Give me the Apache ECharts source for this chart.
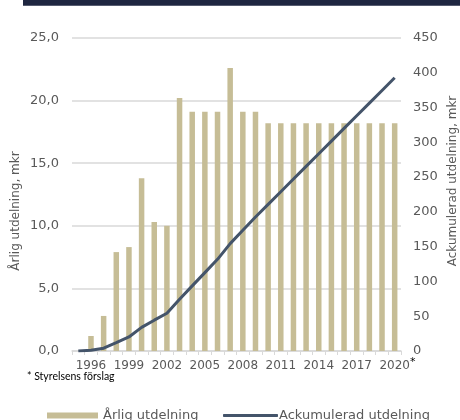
<!DOCTYPE html>
<html>
<head>
<meta charset="utf-8">
<script src="https://cdn.jsdelivr.net/npm/echarts@6/dist/echarts.min.js"></script>
<style>
html,body{margin:0;padding:0;background:#fff;}
#c{width:460px;height:420px;}
</style>
</head>
<body>
<div id="c"></div>
<script>
const years = ['1995','1996','1997','1998','1999','2000','2001','2002','2003','2004','2005','2006','2007','2008','2009','2010','2011','2012','2013','2014','2015','2016','2017','2018','2019','2020'];
const annual = [0, 1.2, 2.8, 7.9, 8.3, 13.8, 10.3, 10.0, 20.2, 19.1, 19.1, 19.1, 22.6, 19.1, 19.1, 18.2, 18.2, 18.2, 18.2, 18.2, 18.2, 18.2, 18.2, 18.2, 18.2, 18.2];
const cumulative = [0, 1.2, 4.0, 11.9, 20.2, 34.0, 44.3, 54.3, 74.5, 93.6, 112.7, 131.8, 154.4, 173.5, 192.6, 210.8, 229.0, 247.2, 265.4, 283.6, 301.8, 320.0, 338.2, 356.4, 374.6, 392.8];
const yearTickLabels = ['1996','1999','2002','2005','2008','2011','2014','2017','2020'];
const leftTicks = {min: 0, max: 25, interval: 5};
const rightTicks = {min: 0, max: 450, interval: 50};
const barName = 'Årlig utdelning';
const lineName = 'Ackumulerad utdelning';
const footnote = '* Styrelsens förslag';
const leftAxisTitle = 'Årlig utdelning, mkr';
const rightAxisTitle = 'Ackumulerad utdelning, mkr';
const chartTitle = 'Årlig utdelning och ackumulerad utdelning';

const font = 'DejaVu Sans';
const grey = '#595959';
const chart = echarts.init(document.getElementById('c'));
const staticGraphics = [
  {id: 'band', type: 'rect', shape: {x: 23, y: -20, width: 437, height: 25.7}, style: {fill: '#1e2640'}},
  {id: 'title', type: 'text', x: 245, y: 0, style: {text: chartTitle, fill: '#fff', font: 'bold 14px "DejaVu Sans"', align: 'center', verticalAlign: 'bottom'}},
  {id: 'foot', type: 'text', x: 27, y: 377, style: {text: footnote, fill: '#000', font: '10.5px Lato', align: 'left', verticalAlign: 'middle'}},
  {id: 'lname', type: 'text', x: 16, y: 211, rotation: Math.PI / 2, style: {text: leftAxisTitle, fill: grey, font: '12px "DejaVu Sans"', align: 'center', verticalAlign: 'middle'}},
  {id: 'rname', type: 'text', x: 453, y: 181, rotation: Math.PI / 2, style: {text: rightAxisTitle, fill: grey, font: '12px "DejaVu Sans"', align: 'center', verticalAlign: 'middle'}}
];
chart.setOption({
  animation: false,
  textStyle: {fontFamily: font},
  grid: {left: 72, right: 59, top: 38, bottom: 69, containLabel: false},
  legend: [
    {data: [barName], left: 42, top: 404, itemWidth: 51, itemHeight: 6, icon: 'rect', itemGap: 0,
     textStyle: {fontFamily: font, fontSize: 13, color: grey}},
    {data: [lineName], left: 218, top: 404, itemWidth: 55, itemHeight: 3, icon: 'roundRect', itemGap: 0,
     textStyle: {fontFamily: font, fontSize: 13, color: grey, padding: [0,0,0,-4]}}
  ],
  xAxis: {
    type: 'category', data: years, boundaryGap: true,
    axisLine: {lineStyle: {color: '#d9d9d9', width: 1.5}},
    axisTick: {show: true, interval: 0, length: 4, lineStyle: {color: '#d9d9d9'}},
    axisLabel: {show: false}
  },
  yAxis: [
    {type: 'value', min: leftTicks.min, max: leftTicks.max, interval: leftTicks.interval,
     axisLine: {show: false}, axisTick: {show: false},
     splitLine: {lineStyle: {color: '#d9d9d9', width: 1.5}},
     axisLabel: {color: grey, fontSize: 13, fontFamily: font, margin: 13,
       formatter: function (v) { return v.toFixed(1).replace('.', ','); }}},
    {type: 'value', min: rightTicks.min, max: rightTicks.max, interval: rightTicks.interval,
     position: 'right', axisLine: {show: false}, axisTick: {show: false}, splitLine: {show: false},
     axisLabel: {color: grey, fontSize: 13, fontFamily: font, margin: 12}}
  ],
  series: [
    {name: barName, type: 'bar', data: annual, yAxisIndex: 0, barWidth: 5.5,
     itemStyle: {color: '#c6bd96'}},
    {name: lineName, type: 'line', data: cumulative, yAxisIndex: 1, showSymbol: false, symbol: 'none',
     lineStyle: {color: '#44546a', width: 3}, itemStyle: {color: '#44546a'}, z: 5}
  ],
  graphic: staticGraphics
});

// Year tick labels placed through the library's own category scale
const yZero = chart.convertToPixel({yAxisIndex: 0}, 0);
const labelGraphics = yearTickLabels.map(function (y, k) {
  const px = chart.convertToPixel({xAxisIndex: 0}, years.indexOf(y));
  return {id: 'xl' + k, type: 'text', x: px, y: yZero + 9,
          style: {text: y, fill: grey, font: '12px "DejaVu Sans"', align: 'center', verticalAlign: 'top'}};
});
const lastPx = chart.convertToPixel({xAxisIndex: 0}, years.length - 1);
labelGraphics.push({id: 'ast', type: 'text', x: lastPx + 18, y: yZero + 11,
  style: {text: '*', fill: '#000', font: '11px "DejaVu Sans"', align: 'center', verticalAlign: 'middle'}});
chart.setOption({graphic: staticGraphics.concat(labelGraphics)});
</script>
</body>
</html>
